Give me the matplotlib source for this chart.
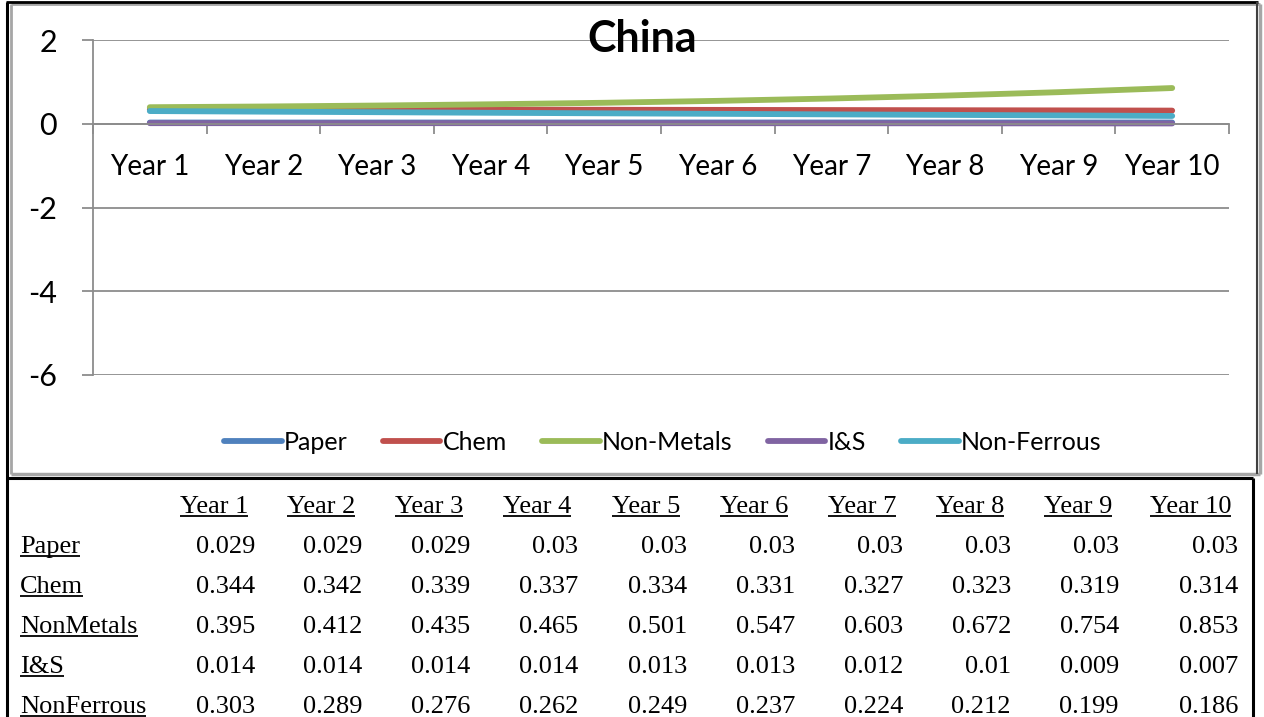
import matplotlib
matplotlib.use("Agg")
import matplotlib.pyplot as plt
from matplotlib.lines import Line2D

# ---- data -------------------------------------------------------------
years = ["Year 1", "Year 2", "Year 3", "Year 4", "Year 5",
         "Year 6", "Year 7", "Year 8", "Year 9", "Year 10"]

paper = [0.029, 0.029, 0.029, 0.03, 0.03, 0.03, 0.03, 0.03, 0.03, 0.03]
chem = [0.344, 0.342, 0.339, 0.337, 0.334, 0.331, 0.327, 0.323, 0.319, 0.314]
non_metals = [0.395, 0.412, 0.435, 0.465, 0.501, 0.547, 0.603, 0.672, 0.754, 0.853]
i_and_s = [0.014, 0.014, 0.014, 0.014, 0.013, 0.013, 0.012, 0.01, 0.009, 0.007]
non_ferrous = [0.303, 0.289, 0.276, 0.262, 0.249, 0.237, 0.224, 0.212, 0.199, 0.186]

legend_names = ["Paper", "Chem", "Non-Metals", "I&S", "Non-Ferrous"]
table_names = ["Paper", "Chem", "NonMetals", "I&S", "NonFerrous"]
series = [paper, chem, non_metals, i_and_s, non_ferrous]
colors = ["#4F81BD", "#C0504D", "#9BBB59", "#8064A2", "#4BACC6"]

title = "China"
y_ticks = [2, 0, -2, -4, -6]

# ---- figure -----------------------------------------------------------
W, H = 1264, 717
fig = plt.figure(figsize=(W / 100, H / 100), dpi=100)
fig.patch.set_facecolor("white")

chart_font = "Lato"
table_font = "Liberation Serif"
grid_col = "#8C8C8C"


def fx(px):
    return px / W


def fy(py):
    return 1 - py / H


# plot area
left, right, top, bottom = 93, 1229, 40, 375
ax = fig.add_axes([fx(left), fy(bottom), fx(right) - fx(left), fy(top) - fy(bottom)])
x = list(range(1, len(years) + 1))
for vals, name, col in zip(series, legend_names, colors):
    ax.plot(x, vals, color=col, lw=4.2, solid_capstyle="round", label=name)

ax.set_xlim(0.5, len(years) + 0.5)
ax.set_ylim(-6, 2)
ax.set_yticks(y_ticks)
ax.set_yticklabels([str(t) for t in y_ticks], fontfamily=chart_font, fontsize=22)
ax.yaxis.grid(True, color=grid_col, lw=1.3)
ax.set_axisbelow(True)
ax.tick_params(axis="y", length=8, width=1.3, color=grid_col, pad=18)

for s in ("top", "right"):
    ax.spines[s].set_visible(False)
ax.spines["left"].set_color(grid_col)
ax.spines["left"].set_linewidth(1.3)
ax.spines["bottom"].set_position(("data", 0))
ax.spines["bottom"].set_color(grid_col)
ax.spines["bottom"].set_linewidth(1.3)

ax.set_xticks([i + 0.5 for i in range(0, len(years) + 1)])
ax.set_xticklabels([])
ax.set_xticks(x, minor=True)
ax.set_xticklabels(years, minor=True, fontfamily=chart_font, fontsize=20)
ax.tick_params(axis="x", which="major", length=7, width=1.3, color=grid_col)
ax.tick_params(axis="x", which="minor", length=0, pad=21.5)

fig.text(fx(642), fy(39), title, ha="center", va="center",
         fontfamily=chart_font, fontweight="bold", fontsize=31)

leg = fig.legend(loc="center", bbox_to_anchor=(fx(663), fy(442)), ncol=5,
                 frameon=False, prop={"family": chart_font, "size": 18},
                 handlelength=2.3, handletextpad=0.1, columnspacing=1.4)

# ---- frames -----------------------------------------------------------
def seg(x0, y0, x1, y1, color, lw):
    fig.add_artist(Line2D([fx(x0), fx(x1)], [fy(y0), fy(y1)], color=color, lw=lw,
                          solid_capstyle="butt"))


# chart frame
seg(11, 4, 1260, 4, "#A6A6A6", 2)
seg(11, 4, 11, 474, "#A6A6A6", 2)
seg(11, 474, 1260, 474, "#A6A6A6", 2.5)
seg(1260, 4, 1260, 474, "#A6A6A6", 2.5)
seg(6, 2, 1258, 2, "black", 2)
seg(7, 2, 7, 717, "black", 2.2)
seg(1257, 2, 1257, 474, "#404040", 1.5)
# table frame
seg(6, 478, 1253, 478, "black", 2.2)
seg(1253, 478, 1253, 717, "black", 2.2)

# ---- data table -------------------------------------------------------
col_right = [255, 362, 470, 578, 687, 795, 903, 1011, 1119, 1238]
header_base = 513
row_base = [553, 593, 633, 673, 713]
tsize = 19

underlined = []
for xr, yr in zip(col_right, years):
    t = fig.text(fx(xr - 7), fy(header_base), yr, ha="right", va="baseline",
                 fontfamily=table_font, fontsize=tsize)
    underlined.append((t, header_base))

for name, vals, yb in zip(table_names, series, row_base):
    t = fig.text(fx(20), fy(yb), name, ha="left", va="baseline",
                 fontfamily=table_font, fontsize=tsize)
    underlined.append((t, yb))
    for xr, v in zip(col_right, vals):
        fig.text(fx(xr), fy(yb), f"{v:g}", ha="right", va="baseline",
                 fontfamily=table_font, fontsize=tsize)

renderer = fig.canvas.get_renderer()
for t, yb in underlined:
    bb = t.get_window_extent(renderer)
    seg(bb.x0, yb + 3, bb.x1, yb + 3, "black", 1.3)

fig.savefig("out.png", dpi=100, facecolor="white")
